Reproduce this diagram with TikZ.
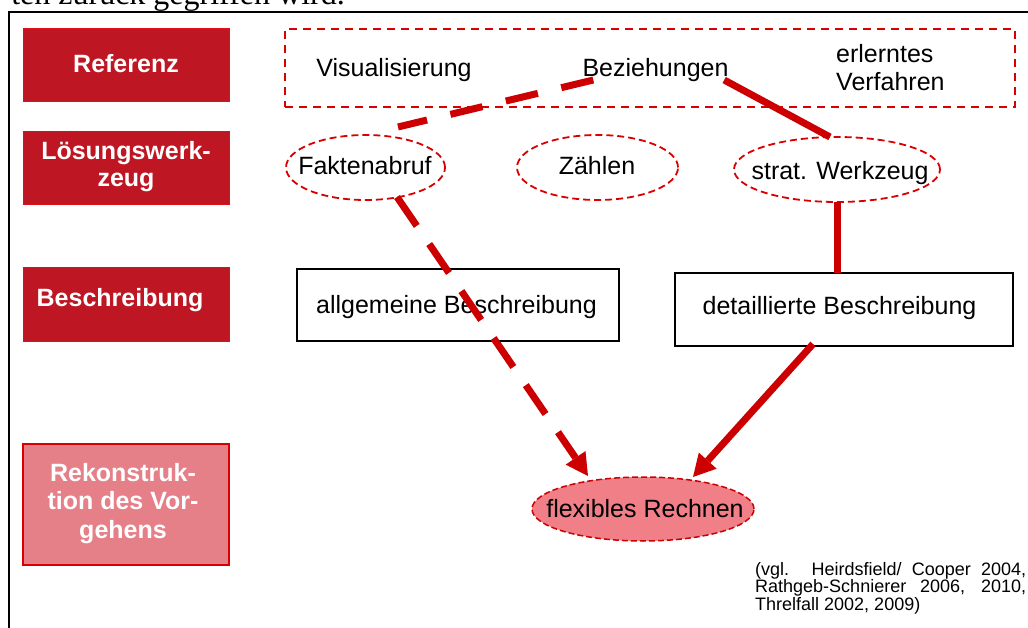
\documentclass[tikz,border=0pt]{standalone}
\usepackage{fontspec}
\setmainfont{Liberation Sans}
\newfontfamily\seriffont{Liberation Serif}
\usetikzlibrary{shapes.geometric,arrows.meta,calc}
\definecolor{darkred}{HTML}{BE1622}
\definecolor{boxborder}{HTML}{E0101A}
\definecolor{lred}{HTML}{D80000}
\definecolor{cred}{HTML}{CC0000}
\definecolor{pinkfill}{HTML}{E57F88}
\definecolor{flexfill}{HTML}{F07F87}
\tikzset{
  leftbox/.style={draw=boxborder, line width=1pt, fill=darkred, minimum width=206pt, minimum height=73pt, inner sep=0pt, outer sep=0pt},
  lefttext/.style={text=white, font=\bfseries\fontsize{25}{28}\selectfont, inner sep=0pt, anchor=base},
  maintext/.style={font=\fontsize{25}{28}\selectfont, inner sep=0pt, anchor=base},
  dashell/.style={ellipse, draw=lred, line width=1.8pt, dash pattern=on 7pt off 4pt, inner sep=0pt, outer sep=0pt},
  plainbox/.style={draw=black, line width=2pt, inner sep=0pt, outer sep=0pt},
  conn/.style={draw=cred, line width=7pt},
  conndash/.style={conn, dash pattern=on 33pt off 24pt},
  conndashb/.style={conn, dash pattern=on 35pt off 22pt},
  arr/.style={-{Triangle[length=22pt,width=24pt,line width=0pt]}},
  citetext/.style={font=\fontsize{18}{18}\selectfont, inner sep=0pt, anchor=base west}
}
\begin{document}
\begin{tikzpicture}[x=1pt,y=-1pt]
\useasboundingbox (0,0) rectangle (1028,628);
% clipped line of text above the frame
\node[font=\seriffont\fontsize{32}{36}\selectfont, anchor=base east, inner sep=0pt] (toptext) at (345,5) {ten zurück gegriffen wird.};
% outer frame
\draw[line width=2pt, black] (8.5,12.5) rectangle (1045,650);

% left category boxes
\node[leftbox] (catref) at (126,65.5) {};
\node[lefttext] (catreft) at (126,73) {Referenz};
\node[leftbox] (catloes) at (126,168.5) {};
\node[lefttext] (catloest1) at (126,160) {Lösungswerk-};
\node[lefttext] (catloest2) at (126,187) {zeug};
\node[leftbox] (catbes) at (126,304.5) {};
\node[lefttext] (catbest) at (120,307) {Beschreibung};
\node[leftbox, fill=pinkfill, draw=lred, line width=2pt, minimum height=121pt] (catrek) at (126,504.5) {};
\node[lefttext] (catrekt1) at (123,481) {Rekonstruk-};
\node[lefttext] (catrekt2) at (123,509.5) {tion des Vor-};
\node[lefttext] (catrekt3) at (123,538) {gehens};

% reference row
\node[draw=lred, line width=1.8pt, dash pattern=on 8pt off 6pt, minimum width=730pt, minimum height=78pt, inner sep=0pt, outer sep=0pt] (refbox) at (650,68) {};
\node[maintext] (vis) at (394,77) {Visualisierung};
\node[maintext] (bez) at (655.5,77) {Beziehungen};
\node[maintext, anchor=base west] (erl1) at (836,63) {erlerntes};
\node[maintext, anchor=base west] (erl2) at (836,91) {Verfahren};

% tool row
\node[dashell, minimum width=159pt, minimum height=65pt] (fak) at (365.5,167.5) {};
\node[maintext] (fakt) at (365,175) {Faktenabruf};
\node[dashell, minimum width=161pt, minimum height=65pt] (zae) at (597.5,167.5) {};
\node[maintext] (zaet) at (597,175) {Zählen};
\node[dashell, minimum width=206pt, minimum height=65pt] (str) at (837,169.5) {};
\node[maintext] (strt) at (840,180) {strat. Werkzeug};

% description row
\node[plainbox, minimum width=322pt, minimum height=72pt] (allg) at (458,305) {};
\node[maintext] (allgt) at (456.5,313) {allgemeine Beschreibung};
\node[plainbox, minimum width=338pt, minimum height=73pt] (det) at (844,309.5) {};
\node[maintext] (dett) at (839.5,315) {detaillierte Beschreibung};

% result
\node[ellipse, fill=flexfill, draw=cred, line width=1.5pt, dash pattern=on 6pt off 3pt, minimum width=222pt, minimum height=64pt, inner sep=0pt, outer sep=0pt] (flex) at (643,509) {};
\node[maintext] (flext) at (645,517) {flexibles Rechnen};

% connectors
\draw[conndash] ($(bez.base west)+(11,3)$) -- ($(fak.north)+(32.5,-8)$);
\draw[conn] ($(bez.base east)+(-4.5,3)$) -- ($(str.north)+(-7,0)$);
\draw[conndashb, arr] ($(fak.south)+(31.5,-3)$) -- ($(flex.north)+(-55,-1)$);
\draw[conn] (str.south) -- (str.south |- det.north);
\draw[conn, arr] ($(det.south)+(-31,-2)$) -- ($(flex.north)+(50,0)$);

% citation
\node[citetext] (cit1) at (755,575) {\makebox[271pt][s]{(vgl. Heirdsfield/ Cooper 2004,}};
\node[citetext] (cit2) at (755,592.5) {\makebox[271pt][s]{Rathgeb-Schnierer 2006, 2010,}};
\node[citetext] (cit3) at (755,610) {Threlfall 2002, 2009)};
\end{tikzpicture}
\end{document}
